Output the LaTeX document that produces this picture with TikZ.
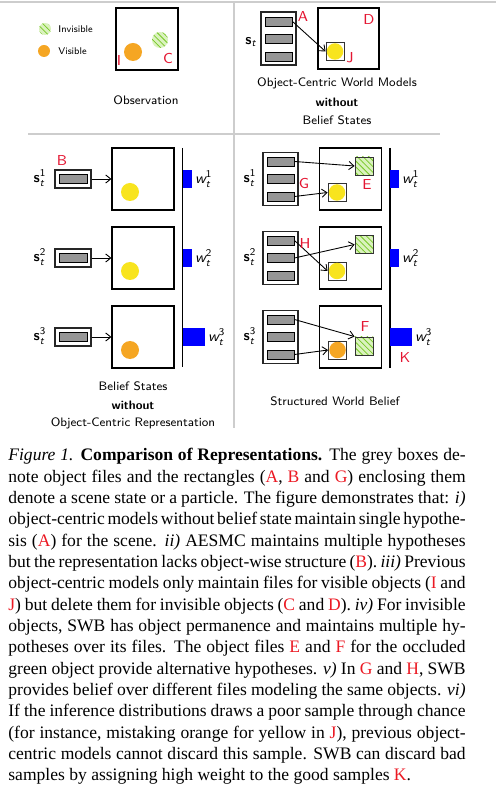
\documentclass[tikz,border=0pt]{standalone}
\usepackage{fontspec}
\usepackage{amsmath}
\newfontfamily\capfont{Liberation Serif}
\usetikzlibrary{patterns,arrows.meta}
\definecolor{lblred}{RGB}{228,22,50}
\definecolor{capred}{RGB}{235,25,35}
\definecolor{greenlight}{RGB}{218,242,190}
\definecolor{greenhatch}{RGB}{120,200,40}
\definecolor{orangec}{RGB}{245,166,35}
\definecolor{yellowc}{RGB}{248,228,30}
\definecolor{bargray}{RGB}{150,150,150}
\definecolor{divgray}{RGB}{205,205,205}
\newcommand\pxu{0.5128pt}
\newcommand\rd[1]{\textcolor{capred}{#1}}
\tikzset{
  scenebox/.style={draw=black, line width=0.6pt, fill=white, minimum width=62*\pxu, minimum height=62*\pxu, inner sep=0},
  sbox/.style={draw=black!85, line width=0.55pt, fill=white, inner sep=0},
  filebar/.style={draw=black, line width=0.5pt, fill=bargray, minimum width=27*\pxu, minimum height=9*\pxu, inner sep=0},
  lbl/.style={text=lblred, font=\sffamily\fontsize{7.4}{8}\selectfont, inner sep=0},
  arr/.style={-{Straight Barb[length=2.6pt,width=4.2pt]}, line width=0.45pt},
  wbar/.style={fill=blue, inner sep=0, minimum height=18*\pxu, anchor=west},
  hatch/.style={preaction={fill=greenlight}, pattern=north west lines, pattern color=greenhatch},
  objsq/.style={draw=black!80, line width=0.45pt, minimum size=18*\pxu, inner sep=0},
  dot/.style={circle, inner sep=0, minimum size=18*\pxu},
  divider/.style={draw=divgray, line width=0.8pt},
  vline/.style={line width=0.9pt},
  txtlbl/.style={inner sep=0, align=center},
  mlbl/.style={inner sep=0, font=\sffamily\fontsize{7.6}{8}\selectfont},
}
\begin{document}
\begin{tikzpicture}[x=0.5128pt,y=-0.5128pt, font=\sffamily\fontsize{6.3}{8}\selectfont]
\useasboundingbox (0,0) rectangle (496,794);
% dividers
\coordinate (t0) at (0,2); \coordinate (t1) at (496,2);
\draw[divider] (t0) -- (t1);
\coordinate (v0) at (234,3); \coordinate (v1) at (234,428);
\draw[divider] (v0) -- (v1);
\coordinate (h0) at (28,134); \coordinate (h1) at (440,134);
\draw[divider] (h0) -- (h1);

% ---------- top left: legend + observation
\node[circle, hatch, inner sep=0, minimum size=12*\pxu] (leginv) at (45,29) {};
\node[anchor=west, inner sep=0, font=\sffamily\fontsize{5.0}{6}\selectfont] (leginvt) at (58,29) {Invisible};
\node[circle, fill=orangec, inner sep=0, minimum size=12*\pxu] (legvis) at (44,51) {};
\node[anchor=west, inner sep=0, font=\sffamily\fontsize{5.0}{6}\selectfont] (legvist) at (58,51) {Visible};
\node[scenebox] (obs) at (147,39) {};
\node[dot, fill=orangec] (obsO) at (133,52) {};
\node[circle, hatch, inner sep=0, minimum size=16*\pxu] (obsG) at (160,40) {};
\node[lbl] (lI) at (119,60) {I};
\node[lbl] (lC) at (168,58) {C};
\node[txtlbl] (tObs) at (146,100) {Observation};

% ---------- top right: object-centric without belief
\node[sbox, minimum width=35*\pxu, minimum height=53*\pxu] (sA) at (278.5,38.5) {};
\node[filebar] (a1) at (278.5,21.5) {};
\node[filebar] (a2) at (278.5,38.5) {};
\node[filebar] (a3) at (278.5,56.5) {};
\node[mlbl] (sAl) at (251,42) {$\textbf{s}_{\textit{t}}$};
\node[lbl] (lA) at (303,16) {A};
\node[scenebox, minimum width=61*\pxu, minimum height=61*\pxu] (scA) at (348.5,38.5) {};
\node[objsq, fill=white] (jbox) at (335,51.5) {};
\node[dot, fill=yellowc, minimum size=16.5*\pxu] (jdot) at (335,51.5) {};
\node[lbl] (lD) at (369,20) {D};
\node[lbl] (lJ) at (350,58) {J};
\draw[arr] (a1.east) -- (jbox.west);
\node[txtlbl] (tA1) at (337,83) {Object-Centric World Models};
\node[txtlbl, font=\sffamily\bfseries\fontsize{6.3}{8}\selectfont] (tA2) at (337,102) {without};
\node[txtlbl] (tA3) at (337,120) {Belief States};

% ---------- bottom left: belief states without object-centric representation
\coordinate (vb0) at (182.5,148); \coordinate (vb1) at (182.5,367);
\draw[vline] (vb0) -- (vb1);
\foreach \i/\y/\c/\w in {1/179/yellowc/9, 2/258/yellowc/9, 3/337/orangec/22}{
  \node[mlbl] (sBl\i) at (40,\y-1) {$\textbf{s}_{\textit{t}}^{\text{\i}}$};
  \node[sbox, minimum width=36*\pxu, minimum height=18*\pxu] (sB\i) at (73,\y) {};
  \node[filebar, minimum width=28*\pxu, minimum height=9.5*\pxu] (bB\i) at (73,\y) {};
  \node[scenebox] (scB\i) at (143,\y) {};
  \node[dot, fill=\c] (dB\i) at (130,\y+13) {};
  \draw[arr] (sB\i.east) -- (scB\i.west);
  \node[wbar, minimum width=\w*\pxu] (wB\i) at (183,\y) {};
  \node[mlbl, anchor=west] (wBl\i) at ([xshift=1pt]wB\i.east) {$\textit{w}_{\textit{t}}^{\text{\i}}$};
}
\node[lbl] (lB) at (62,160) {B};
\node[txtlbl] (tB1) at (133,386) {Belief States};
\node[txtlbl, font=\sffamily\bfseries\fontsize{6.3}{8}\selectfont] (tB2) at (133,405) {without};
\node[txtlbl] (tB3) at (133,423) {Object-Centric Representation};

% ---------- bottom right: structured world belief
\coordinate (vs0) at (390,148); \coordinate (vs1) at (390,368);
\draw[vline] (vs0) -- (vs1);
\foreach \i/\y/\w in {1/179/9, 2/258/9, 3/337/22}{
  \node[mlbl] (sSl\i) at (250,\y-1) {$\textbf{s}_{\textit{t}}^{\text{\i}}$};
  \node[sbox, minimum width=35*\pxu, minimum height=53*\pxu] (sS\i) at (280.5,\y) {};
  \node[filebar] (f\i a) at (280.5,\y-17.5) {};
  \node[filebar] (f\i b) at (280.5,\y) {};
  \node[filebar] (f\i c) at (280.5,\y+17.5) {};
  \node[scenebox] (scS\i) at (350.5,\y) {};
  \node[wbar, minimum width=\w*\pxu] (wS\i) at (390,\y) {};
  \node[mlbl, anchor=west] (wSl\i) at ([xshift=1pt]wS\i.east) {$\textit{w}_{\textit{t}}^{\text{\i}}$};
}
% row 1
\node[objsq, hatch] (g1) at (364,166) {};
\node[objsq, fill=white] (y1) at (337,192.5) {};
\node[dot, fill=yellowc, minimum size=16.5*\pxu] (y1d) at (337,192.5) {};
\draw[arr] (f1a.east) -- (g1.west);
\draw[arr] (f1c.east) -- (y1.west);
% row 2
\node[objsq, hatch] (g2) at (364,244.5) {};
\node[objsq, fill=white] (y2) at (337,271) {};
\node[dot, fill=yellowc, minimum size=16.5*\pxu] (y2d) at (337,271) {};
\draw[arr] (f2a.east) -- (y2.west);
\draw[arr] (f2b.east) -- (g2.west);
% row 3
\node[objsq, hatch] (g3) at (364,346) {};
\node[objsq, fill=white] (o3) at (337.5,350) {};
\node[dot, fill=orangec, minimum size=16.5*\pxu] (o3d) at (337.5,350) {};
\draw[arr] (f3a.east) -- (g3.north west);
\draw[arr] (f3c.east) -- (o3.west);
\node[lbl] (lG) at (304,183) {G};
\node[lbl] (lE) at (367,185) {E};
\node[lbl] (lH) at (305,243) {H};
\node[lbl] (lF) at (365,327) {F};
\node[lbl] (lK) at (405,357) {K};
\node[txtlbl] (tS) at (335,401) {Structured World Belief};

% ---------- caption
\node[anchor=north west, inner sep=0, text width=234.5pt, align=justify,
      font=\capfont\fontsize{9}{10.94}\selectfont] (caption) at (8,448) {%
\hyphenpenalty=10000 \exhyphenpenalty=10000
\spaceskip=0.25em plus 0.2em minus 0.14em
\textit{Figure 1.} \textbf{Comparison of Representations.} The grey boxes de-\linebreak
note object files and the rectangles (\rd{A}, \rd{B} and \rd{G}) enclosing them\linebreak
denote a scene state or a particle. The figure demonstrates that: \textit{i)}\linebreak
object-centric models without belief state maintain single hypothe-\linebreak
sis (\rd{A}) for the scene. \textit{ii)} AESMC maintains multiple hypotheses\linebreak
but the representation lacks object-wise structure (\rd{B}). \textit{iii)} Previous\linebreak
object-centric models only maintain files for visible objects (\rd{I} and\linebreak
\rd{J}) but delete them for invisible objects (\rd{C} and \rd{D}). \textit{iv)} For invisible\linebreak
objects, SWB has object permanence and maintains multiple hy-\linebreak
potheses over its files. The object files \rd{E} and \rd{F} for the occluded\linebreak
green object provide alternative hypotheses. \textit{v)} In \rd{G} and \rd{H}, SWB\linebreak
provides belief over different files modeling the same objects. \textit{vi)}\linebreak
If the inference distributions draws a poor sample through chance\linebreak
(for instance, mistaking orange for yellow in \rd{J}), previous object-\linebreak
centric models cannot discard this sample. SWB can discard bad\linebreak
samples by assigning high weight to the good samples \rd{K}.};
\end{tikzpicture}
\end{document}
